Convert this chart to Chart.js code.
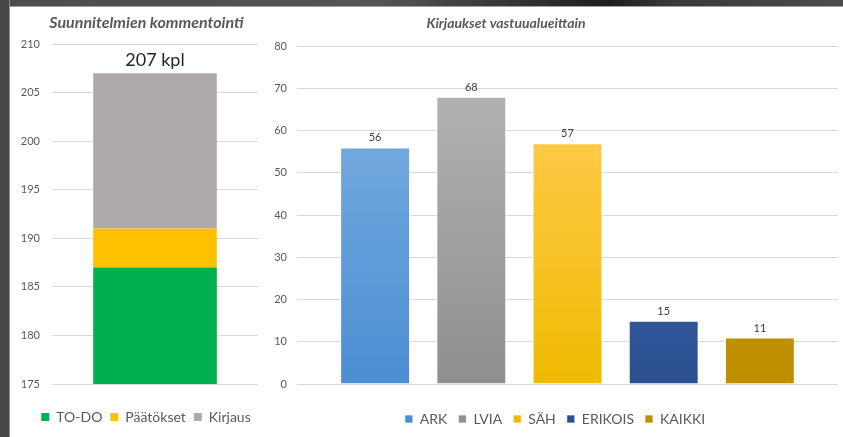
<!DOCTYPE html>
<html>
<head>
<meta charset="utf-8">
<script src="https://cdn.jsdelivr.net/npm/chart.js@4.4.0/dist/chart.umd.min.js"></script>
<style>
    html, body { margin: 0; padding: 0; background: #fff; }
    body { width: 843px; height: 437px; position: relative; overflow: hidden; font-family: Lato, sans-serif; }
    #topStrip { position: absolute; left: 0; top: 0; width: 843px; height: 6px;
        background: linear-gradient(90deg, #4c4c4c 0%, #555 45%, #1e1e1e 72%, #3a3a3a 80%, #4c4c4c 100%);
        border-bottom: 1px solid #a0a0a0; }
    #leftStrip { position: absolute; left: 0; top: 0; width: 9px; height: 437px; background: #464646;
        border-right: 1px solid #8c8c8c; }
    #leftBox { position: absolute; left: 11px; top: 8px; }
    #rightBox { position: absolute; left: 264px; top: 8px; }
</style>
</head>
<body>
<div id="topStrip"></div>
<div id="leftStrip"></div>
<div id="leftBox"><canvas id="commentChart" width="270" height="429"></canvas></div>
<div id="rightBox"><canvas id="areaChart" width="579" height="429"></canvas></div>
<script>
// Suunnitelmien kommentointi (stacked)
var commentSeries = ['TO-DO', 'Päätökset', 'Kirjaus'];
var todoValues = [187];
var paatoksetValues = [4];
var kirjausValues = [16];
var commentTicks = [175, 180, 185, 190, 195, 200, 205, 210];

// Kirjaukset vastuualueittain
var areaNames = ['ARK', 'LVIA', 'SÄH', 'ERIKOIS', 'KAIKKI'];
var areaValues = [56, 68, 57, 15, 11];
var areaTicks = [0, 10, 20, 30, 40, 50, 60, 70, 80];

var commentColors = ['#00b050', '#ffc000', '#aeaaaa'];
// top / bottom of each bar's gradient
var areaColorsTop = ['#72a8de', '#b1b1b1', '#ffc945', '#30569a', '#bf8f00'];
var areaColorsBottom = ['#4a8ed2', '#8f8f8f', '#efbb00', '#2c508f', '#bf8f00'];

var textGray = '#595959';
var gridGray = '#d9d9d9';

Chart.defaults.font.family = 'Lato, sans-serif';
Chart.defaults.color = textGray;

var panelTitle = {
    id: 'panelTitle',
    afterDraw: function(chart, args, opts) {
        var ctx = chart.ctx;
        ctx.save();
        ctx.font = 'italic bold ' + opts.size + 'px Lato, sans-serif';
        ctx.fillStyle = textGray;
        ctx.textAlign = 'center';
        ctx.textBaseline = 'middle';
        ctx.fillText(opts.text, opts.x, opts.y);
        ctx.restore();
    }
};

var valueLabels = {
    id: 'valueLabels',
    afterDatasetsDraw: function(chart, args, opts) {
        var ctx = chart.ctx;
        ctx.save();
        ctx.font = opts.font;
        ctx.fillStyle = opts.color;
        ctx.textAlign = 'center';
        ctx.textBaseline = 'bottom';
        if (opts.total) {
            var n = chart.data.datasets.length;
            var topBar = chart.getDatasetMeta(n - 1).data[0];
            var total = 0;
            chart.data.datasets.forEach(function(ds) { total += ds.data[0]; });
            ctx.fillText(total + ' kpl', topBar.x, topBar.y - opts.offset);
        } else {
            chart.data.datasets.forEach(function(ds, i) {
                chart.getDatasetMeta(i).data.forEach(function(bar, j) {
                    ctx.fillText(ds.data[j], bar.x, bar.y - opts.offset);
                });
            });
        }
        ctx.restore();
    }
};

function legendOpts(pad) {
    return {
        position: 'bottom',
        labels: {
            boxWidth: 8,
            boxHeight: 8,
            padding: pad,
            color: textGray,
            font: { size: 14 }
        }
    };
}

function xHidden(gap) {
    return {
        grid: { display: false },
        border: { display: false },
        ticks: { display: false },
        afterFit: function(s) { s.height = gap; }
    };
}

var commentData = [todoValues, paatoksetValues, kirjausValues];
new Chart(document.getElementById('commentChart'), {
    type: 'bar',
    data: {
        labels: [''],
        datasets: commentSeries.map(function(name, i) {
            return {
                label: name,
                data: commentData[i],
                backgroundColor: commentColors[i],
                categoryPercentage: 0.6,
                barPercentage: 1.0
            };
        })
    },
    options: {
        responsive: false,
        animation: false,
        layout: { padding: { left: 0, right: 0, top: 36, bottom: 3 } },
        scales: {
            x: Object.assign({ stacked: true }, xHidden(18)),
            y: {
                stacked: true,
                min: commentTicks[0],
                max: commentTicks[commentTicks.length - 1],
                afterBuildTicks: function(s) { s.ticks = commentTicks.map(function(v) { return { value: v }; }); },
                grid: { color: gridGray, drawTicks: false },
                border: { display: false },
                ticks: { padding: 12, color: textGray, font: { size: 11 } },
                afterFit: function(s) { s.width = 41; }
            },
            // empty spacer on the right so the legend stays centred under the panel
            yRight: {
                position: 'right',
                grid: { display: false },
                border: { display: false },
                ticks: { display: false },
                afterFit: function(s) { s.width = 23; }
            }
        },
        plugins: {
            legend: legendOpts(8),
            tooltip: { enabled: false },
            panelTitle: { text: 'Suunnitelmien kommentointi', x: 135.5, y: 15, size: 16 },
            valueLabels: { total: true, font: '18px Lato, sans-serif', color: '#262626', offset: 4 }
        }
    },
    plugins: [panelTitle, valueLabels]
});

new Chart(document.getElementById('areaChart'), {
    type: 'bar',
    data: {
        labels: [''],
        datasets: areaNames.map(function(name, i) {
            return {
                label: name,
                data: [areaValues[i]],
                backgroundColor: function(c) {
                    if (c.type !== 'data' || !c.chart.chartArea) return areaColorsTop[i];
                    var y = c.chart.scales.y;
                    var g = c.chart.ctx.createLinearGradient(0, y.getPixelForValue(c.raw), 0, y.getPixelForValue(0));
                    g.addColorStop(0, areaColorsTop[i]);
                    g.addColorStop(1, areaColorsBottom[i]);
                    return g;
                },
                borderColor: 'rgba(255,255,255,0.7)',
                borderWidth: 1,
                categoryPercentage: 0.889,
                barPercentage: 0.727
            };
        })
    },
    options: {
        responsive: false,
        animation: false,
        layout: { padding: { left: 8, right: 5, top: 38, bottom: 1 } },
        scales: {
            x: xHidden(17),
            y: {
                min: areaTicks[0],
                max: areaTicks[areaTicks.length - 1],
                afterBuildTicks: function(s) { s.ticks = areaTicks.map(function(v) { return { value: v }; }); },
                grid: { color: gridGray, drawTicks: false },
                border: { display: false },
                ticks: { padding: 10, color: textGray, font: { size: 11 } },
                afterFit: function(s) { s.width = 25; }
            }
        },
        plugins: {
            legend: legendOpts(11),
            tooltip: { enabled: false },
            panelTitle: { text: 'Kirjaukset vastuualueittain', x: 242, y: 15, size: 14 },
            valueLabels: { total: false, font: '11px Lato, sans-serif', color: '#404040', offset: 4 }
        }
    },
    plugins: [panelTitle, valueLabels]
});
</script>
</body>
</html>
